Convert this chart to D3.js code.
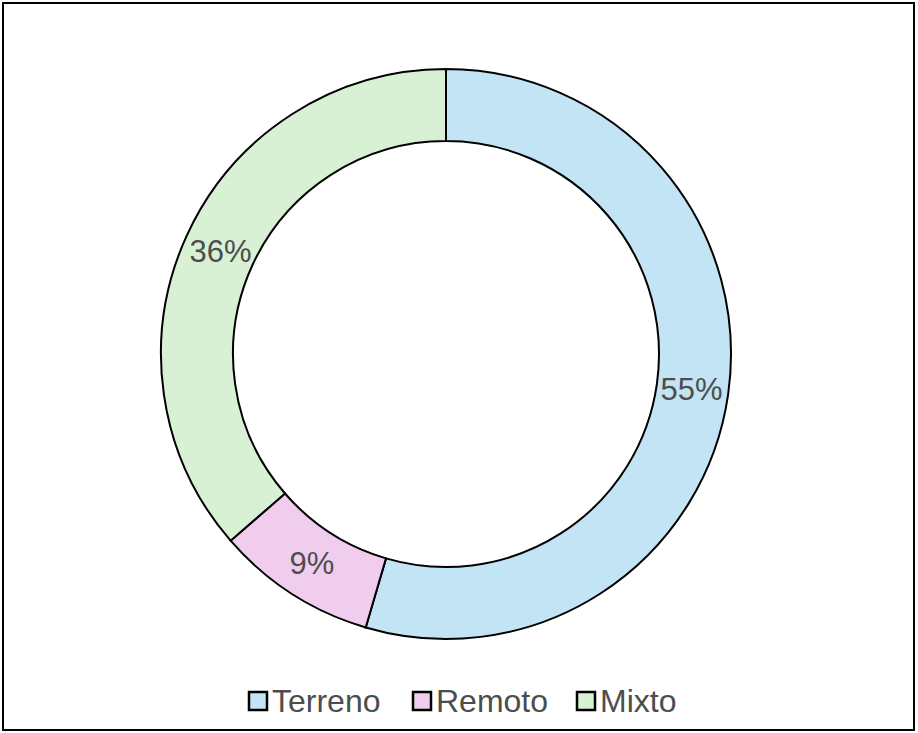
<!DOCTYPE html>
<html>
<head>
<meta charset="utf-8">
<script src="https://cdn.jsdelivr.net/npm/d3@7"></script>
<style>
  body { margin: 0; background: #fff; }
  svg text { font-family: "Liberation Sans", Arial, sans-serif; }
</style>
</head>
<body>
<div id="chart"></div>
<script>
// data
const categories = ['Terreno', 'Remoto', 'Mixto'];
const counts = [6, 1, 4];
const colors = ['#c3e4f4', '#f0cdec', '#d8f1d4'];

const W = 918, H = 733;
const cx = 446, cy = 354;
const outerR = 285, innerR = 213;

let svg = d3.select('#chart')
  .append('svg')
  .attr('width', W)
  .attr('height', H);

// frame
svg.append('rect')
  .attr('x', 3).attr('y', 3)
  .attr('width', 911).attr('height', 727)
  .attr('fill', 'none')
  .attr('stroke', '#000')
  .attr('stroke-width', 2);

const total = d3.sum(counts);
const pie = d3.pie().sort(null).value(d => d.v);
const arcs = pie(categories.map((c, i) => ({ c: c, v: counts[i], col: colors[i] })));

const arc = d3.arc().innerRadius(innerR).outerRadius(outerR);
const labelArc = d3.arc().innerRadius(248).outerRadius(248);

const g = svg.append('g').attr('transform', `translate(${cx},${cy})`);

g.selectAll('path')
  .data(arcs)
  .enter()
  .append('path')
  .attr('d', arc)
  .attr('fill', d => d.data.col)
  .attr('stroke', '#000')
  .attr('stroke-width', 2);

g.selectAll('text')
  .data(arcs)
  .enter()
  .append('text')
  .attr('transform', d => `translate(${labelArc.centroid(d)})`)
  .attr('text-anchor', 'middle')
  .attr('dy', '0.36em')
  .attr('font-size', 31)
  .attr('fill', '#4d4d4d')
  .text(d => Math.round(d.data.v / total * 100) + '%');

// legend
const legendX = [249, 413, 577];
const leg = svg.append('g');
categories.forEach(function (c, i) {
  leg.append('rect')
    .attr('x', legendX[i]).attr('y', 692)
    .attr('width', 18).attr('height', 18)
    .attr('fill', colors[i])
    .attr('stroke', '#000')
    .attr('stroke-width', 2.5);
  leg.append('text')
    .attr('x', legendX[i] + 23).attr('y', 712)
    .attr('font-size', 32)
    .attr('fill', '#4d4d4d')
    .text(c);
});
</script>
</body>
</html>
